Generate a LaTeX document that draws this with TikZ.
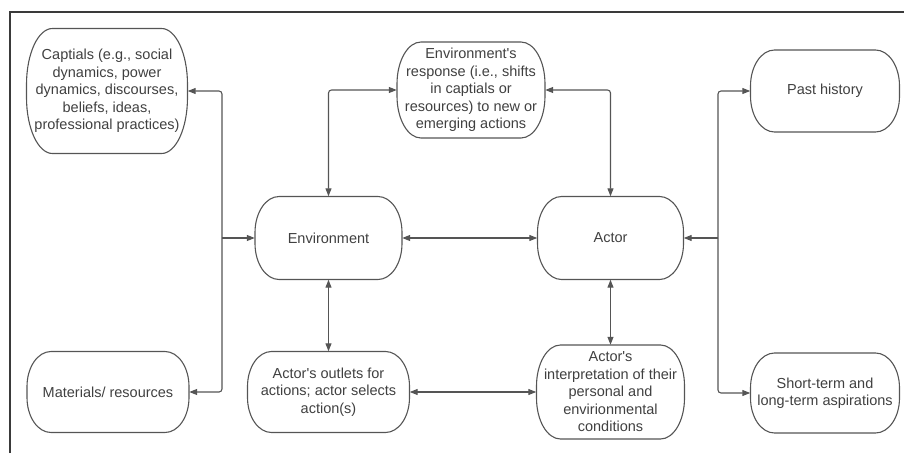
\documentclass[tikz,border=0pt]{standalone}
\usepackage{fontspec}
\setmainfont{Liberation Sans}[Ligatures=TeXOff]
\usetikzlibrary{arrows.meta}
\definecolor{lineg}{HTML}{555555}
\definecolor{textg}{HTML}{404040}
\definecolor{frameg}{HTML}{3A3A3A}
% #1 node name, #2 half width, #3 half height, #4 x radius, #5 y radius
\newcommand\drawpill[5]{%
  \begin{scope}[shift={(#1.center)}, x=1pt, y=1pt]
    \draw[pillline] (-#2+#4,#3) -- (#2-#4,#3)
      arc[start angle=90,end angle=0,x radius=#4,y radius=#5] -- (#2,-#3+#5)
      arc[start angle=0,end angle=-90,x radius=#4,y radius=#5] -- (-#2+#4,-#3)
      arc[start angle=270,end angle=180,x radius=#4,y radius=#5] -- (-#2,#3-#5)
      arc[start angle=180,end angle=90,x radius=#4,y radius=#5] -- cycle;
  \end{scope}}
\begin{document}
\begin{tikzpicture}[x=1pt,y=-1pt,
  pillline/.style={draw=lineg, line width=1.1pt},
  box/.style={text=textg, font=\fontsize{14.5}{17.5}\selectfont, align=center, inner sep=0pt},
  oneway/.style={draw=lineg, line width=1.1pt, rounded corners=3pt, -{Triangle[length=8pt,width=6pt]}},
  twoway/.style={draw=lineg, line width=1.1pt, rounded corners=3pt, {Triangle[length=8pt,width=6pt]}-{Triangle[length=8pt,width=6pt]}}]
\useasboundingbox (0,0) rectangle (904,453);
\draw[frameg, line width=1.2pt] (10,453) -- (10,12) -- (904,12);

\node[box, minimum width=161pt, minimum height=125pt] (cap) at (107,91)
  {Captials (e.g., social\\dynamics, power\\dynamics, discourses,\\beliefs, ideas,\\professional practices)};
\node[box, minimum width=148pt, minimum height=96pt] (resp) at (471,90)
  {Environment's\\response (i.e., shifts\\in captials or\\resources) to new or\\emerging actions};
\node[box, minimum width=149pt, minimum height=82pt] (past) at (825,91) {Past history};
\node[box, minimum width=162pt, minimum height=81pt] (mat) at (108,392) {Materials/ resources};
\node[box, minimum width=147pt, minimum height=83pt] (env) at (328.5,238) {Environment};
\node[box, minimum width=146pt, minimum height=83pt] (actor) at (610.5,238) {Actor};
\node[box, minimum width=162pt, minimum height=81pt] (outl) at (328.5,392)
  {Actor's outlets for\\actions; actor selects\\action(s)};
\node[box, minimum width=148pt, minimum height=94pt] (interp) at (610.5,392)
  {Actor's\\interpretation of their\\personal and\\envirionmental\\conditions};
\node[box, minimum width=149pt, minimum height=80pt] (short) at (825,393)
  {Short-term and\\long-term aspirations};

\drawpill{cap}{80.5}{62.5}{26}{56}
\drawpill{resp}{74}{48}{24}{42}
\drawpill{past}{74.5}{41}{24}{36}
\drawpill{mat}{81}{40.5}{24}{35}
\drawpill{env}{73.5}{41.5}{24}{36}
\drawpill{actor}{73}{41.5}{24}{36}
\drawpill{outl}{81}{40.5}{24}{35}
\drawpill{interp}{74}{47}{24}{41}
\drawpill{short}{74.5}{40}{24}{35}

\coordinate (jl) at (222,238);
\coordinate (jr) at (718,238);

\draw[oneway] (jl) -- (env.west);
\draw[oneway] (jl) |- (cap.east);
\draw[oneway] (jl) |- (mat.east);
\draw[twoway] (env.north) |- (resp.west);
\draw[twoway] (resp.east) -| (actor.north);
\draw[twoway] (env.east) -- (actor.west);
\draw[twoway] (env.south) -- (outl.north);
\draw[twoway] (outl.east) -- (interp.west);
\draw[twoway] (actor.south) -- (interp.north);
\draw[oneway] (jr) -- (actor.east);
\draw[oneway] (jr) |- (past.west);
\draw[oneway] (jr) |- (short.west);
\end{tikzpicture}
\end{document}
